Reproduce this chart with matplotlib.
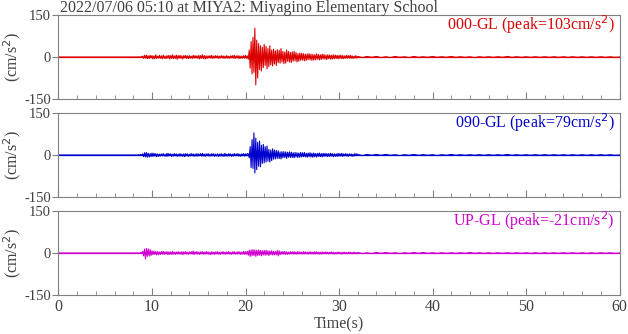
import numpy as np
import matplotlib
matplotlib.use("Agg")
import matplotlib.pyplot as plt

# Acceleration records at MIYA2 (cm/s^2).
# Dense part sampled every 0.1 s from 8.5 s, tail every 0.5 s from 32 s.
title = "2022/07/06 05:10 at MIYA2: Miyagino Elementary School"
components = ["000-GL", "090-GL", "UP-GL"]
peaks = [103, 79, -21]

ns_active = [
    0, 1, -1, 1, 0,
    3, -5, 6, -4, 7, -6, 4, -5, 6, -3,
    5, -7, 4, -6, 8, -5, 3, -4, 6, -5,
    4, -6, 7, -5, 3, -6, 5, -4, 6, -7,
    5, -4, 8, -6, 4, -5, 7, -8, 5, -4,
    6, -5, 4, -7, 5, -3, 6, -5, 4, -6,
    5, -4, 3, -5, 6, -4, 5, -3, 4, -5,
    6, -7, 5, -4, 8, -6, 5, -7, 4, -5,
    4, -3, 5, -4, 6, -5, 3, -4, 5, -3,
    4, -5, 3, -4, 5, -3, 4, -5, 3, -4,
    5, -4, 3, -5, 4, -3, 5, -4, 6, -5,
    4, -3, 5, -6, 4, -5, 3, -4, 5, -4,
    6, -5, 4, -8, 25, -40, 55, -60, 70, -55,
    103, -100, 60, -75, 48, -45, 40, -50, 35, -38,
    45, -30, 38, -42, 30, -35, 40, -28, 25, -32,
    28, -25, 22, -30, 26, -20, 24, -22, 30, -18,
    20, -24, 18, -22, 25, -15, 20, -18, 16, -20,
    18, -15, 20, -14, 16, -18, 12, -15, 14, -12,
    13, -11, 12, -14, 10, -12, 11, -9, 12, -10,
    10, -12, 9, -11, 8, -10, 11, -8, 9, -10,
    8, -9, 10, -7, 9, -8, 7, -9, 8, -6,
    7, -8, 6, -7, 8, -6, 7, -5, 6, -7,
    6, -5, 7, -6, 5, -6, 4, -5, 6, -4,
    5, -4, 6, -5, 4, -5, 3, -4, 5, -4,
]
ns_tail = [
    2, -2, 2, -1, 2, -2, 1, -2, 2, -1,
    1, -2, 2, -1, 1, -1, 2, -1, 1, -1,
    2, -1, 1, -1, 1, -2, 1, -1, 1, -1,
    1, -1, 2, -1, 1, -1, 1, -1, 1, -1,
    1, -1, 1, -1, 1, -1, 1, -1, 1, -1,
    1, -1, 1, -1, 1, -1,
]

ew_active = [
    0, 1, -1, 2, -1,
    4, -6, 8, -7, 9, -8, 6, -7, 5, -6,
    7, -5, 6, -4, 5, -6, 4, -5, 3, -4,
    4, -3, 5, -4, 3, -5, 6, -4, 5, -3,
    4, -5, 3, -4, 5, -3, 4, -5, 3, -4,
    5, -4, 3, -5, 4, -6, 5, -3, 4, -5,
    3, -4, 5, -3, 4, -5, 3, -4, 5, -4,
    4, -3, 5, -4, 6, -4, 3, -5, 4, -3,
    5, -4, 3, -4, 5, -3, 4, -5, 3, -4,
    4, -5, 3, -4, 5, -4, 3, -5, 6, -4,
    3, -4, 5, -3, 4, -5, 3, -4, 5, -3,
    4, -3, 5, -4, 3, -5, 4, -3, 5, -4,
    4, -3, 5, 4, -10, 30, -45, 55, -48, 79,
    -64, 60, -52, 45, -40, 50, -42, 35, -30, 38,
    -28, 30, -25, 32, -22, 20, -25, 18, -20, 22,
    -15, 18, -14, 16, -12, 15, -13, 11, -14, 12,
    -10, 12, -9, 11, -12, 10, -8, 11, -9, 10,
    -9, 8, -10, 9, -7, 8, -9, 7, -8, 9,
    -7, 8, -6, 9, -7, 6, -8, 7, -6, 8,
    -7, 6, -8, 7, -6, 5, -7, 6, -5, 7,
    -6, 5, -7, 6, -5, 6, -4, 5, -6, 5,
    -5, 6, -4, 5, -6, 4, -5, 4, -5, 6,
    -4, 5, -4, 6, -5, 4, -3, 5, -4, 4,
    -5, 4, -3, 4, -5, 3, -4, 5, -3, 4,
]
ew_tail = [
    2, -2, 2, -1, 2, -1, 2, -1, 1, -2,
    1, -1, 2, -1, 1, -1, 1, -2, 1, -1,
    2, -1, 1, -1, 1, -1, 1, -1, 1, -1,
    1, -1, 2, -1, 1, -1, 1, -1, 1, -1,
    1, -1, 1, -1, 1, -1, 1, -1, 1, -1,
    1, -1, 1, -1, 1, -1,
]

ud_active = [
    0, 1, -1, 2, -2,
    6, -10, 14, -21, 16, -12, 15, -11, 12, -9,
    8, -6, 7, -5, 6, -7, 5, -6, 4, -5,
    5, -4, 6, -5, 4, -3, 5, -6, 4, -5,
    4, -5, 6, -4, 3, -5, 4, -3, 5, -4,
    3, -4, 5, -6, 4, -3, 5, -4, 3, -5,
    4, -3, 5, -4, 7, -5, 4, -3, 5, -4,
    3, -5, 4, -3, 5, -4, 3, -4, 5, -3,
    4, -5, 3, -6, 5, -4, 3, -5, 4, -3,
    5, -4, 3, -5, 4, -3, 5, -4, 3, -4,
    4, -3, 5, -4, 3, -5, 4, -3, 5, -4,
    3, -4, 5, -3, 4, -5, 3, -4, 6, -5,
    5, -4, 6, -8, 10, -12, 11, -10, 12, -9,
    11, -12, 10, -9, 11, -8, 9, -10, 8, -7,
    9, -8, 10, -7, 8, -9, 7, -6, 8, -7,
    6, -7, 5, -6, 9, -10, 8, -6, 5, -4,
    5, -4, 6, -5, 4, -5, 3, -4, 5, -3,
    4, -3, 5, -4, 3, -4, 5, -3, 4, -3,
    3, -4, 5, -3, 4, -3, 3, -4, 4, -3,
    4, -3, 3, -4, 5, -3, 4, -3, 3, -4,
    3, -4, 4, -3, 3, -2, 4, -3, 3, -4,
    3, -2, 4, -3, 3, -4, 2, -3, 3, -2,
    3, -3, 2, -4, 3, -2, 3, -3, 2, -3,
    3, -2, 3, -3, 2, -3, 3, -2, 2, -3,
]
ud_tail = [
    2, -2, 1, -2, 2, -1, 2, -1, 1, -2,
    1, -1, 2, -1, 2, -1, 1, -1, 1, -1,
    1, -1, 1, -1, 2, -1, 1, -1, 1, -1,
    1, -1, 1, -1, 1, -1, 1, -1, 1, -1,
    1, -1, 1, -1, 1, -1, 1, -1, 1, -1,
    1, -1, 1, -1, 1, -1,
]

colors = ["#dd0000", "#0000cc", "#d000d0"]
text_grey = "#404040"
spine_grey = "#808080"

plt.rcParams["font.family"] = ["Liberation Serif", "DejaVu Serif"]
plt.rcParams["axes.unicode_minus"] = False


def build_trace(active, tail):
    t = np.concatenate([[0.0, 8.4],
                        8.5 + 0.1 * np.arange(len(active)),
                        32.0 + 0.5 * np.arange(len(tail)),
                        [60.0]])
    a = np.concatenate([[0, 0], active, tail, [0]])
    return t, a


traces = [build_trace(ns_active, ns_tail),
          build_trace(ew_active, ew_tail),
          build_trace(ud_active, ud_tail)]

fig = plt.figure(figsize=(6.28, 3.34), dpi=100)
W, H = 628, 334
left, right = 58.5, 619.5
tops = [15, 113, 211]
panel_h = 84
fs = 11.5
tick_fs = 10.5

fig.text(60 / W, 1 - 11.5 / H, title, fontsize=fs, color=text_grey,
         ha="left", va="baseline")

for i, ((t, a), comp, peak, c) in enumerate(zip(traces, components, peaks, colors)):
    ax = fig.add_axes([left / W, 1 - (tops[i] + panel_h) / H,
                       (right - left) / W, panel_h / H])
    ax.plot(t, a, color=c, lw=0.8)
    ax.axhline(0, color=c, lw=0.9, zorder=1)
    ax.set_xlim(0, 60)
    ax.set_ylim(-150, 150)
    ax.set_yticks([-150, 0, 150])
    ax.set_xticks(range(0, 61, 10))
    ax.set_xticks(range(0, 61, 2), minor=True)
    ax.tick_params(axis="x", which="major", direction="in", length=5,
                   color=spine_grey, labelsize=fs, labelcolor=text_grey, pad=3)
    ax.tick_params(axis="x", which="minor", direction="in", length=3,
                   color=spine_grey)
    ax.tick_params(axis="y", direction="out", length=4, color=spine_grey,
                   labelsize=tick_fs, labelcolor=text_grey, pad=1.5)
    for s in ax.spines.values():
        s.set_color(spine_grey)
        s.set_linewidth(0.8)
    ax.set_ylabel("(cm/s$^2$)", fontsize=fs, color=text_grey)
    ax.yaxis.set_label_coords(-0.063, 0.5)
    if i < 2:
        ax.tick_params(axis="x", labelbottom=False)
    else:
        ax.set_xlabel("Time(s)", fontsize=fs, color=text_grey, labelpad=1)
    ax.text(0.991, 0.82, f"{comp} (peak={peak}cm/s$^2$)", transform=ax.transAxes,
            ha="right", va="baseline", fontsize=fs, color=c)

fig.savefig("out.png", dpi=100)
